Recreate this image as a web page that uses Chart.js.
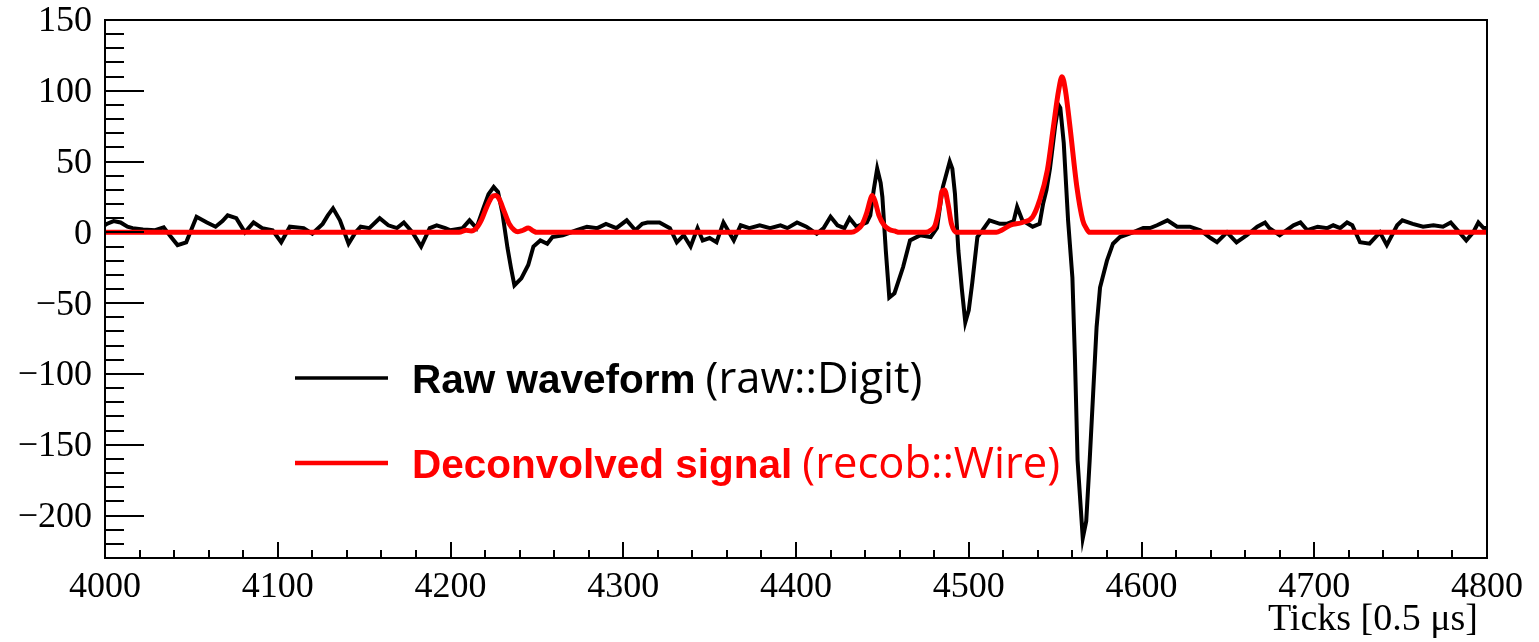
<!DOCTYPE html>
<html><head><meta charset="utf-8">
<script src="https://cdn.jsdelivr.net/npm/chart.js@4.4.1/dist/chart.umd.min.js"></script>
<style>html,body{margin:0;padding:0;background:#fff;}#wrap{width:1539px;height:642px;}</style>
</head><body><div id="wrap"><canvas id="c" width="1539" height="642"></canvas></div>
<script>
// ---- data ----
const rawTicks = [4000,4001,4005,4009,4013,4016,4022,4029,4034,4038,4042,4047,4050,4053,4059,4064,4068,4071,4076,4081,4086,4091,4097,4102,4107,4115,4120,4126,4129,4132,4136,4141,4145,4148,4153,4159,4164,4169,4173,4178,4183,4188,4192,4197,4200,4207,4211,4215,4219,4222,4225,4227.5,4230,4233,4235,4237,4241,4245,4248,4252,4256,4259,4265,4273,4279,4285,4290,4296,4302,4307,4311,4314,4321,4327,4331,4335,4339,4343,4346,4350,4354,4358,4364,4368,4373,4379,4385,4391,4395,4400.6,4406,4412,4416,4420,4424,4428,4431,4435,4441,4443,4445,4447,4449,4450,4452,4454,4457,4462,4466,4472,4478,4481.6,4483,4485,4489,4490.5,4492,4494,4496,4498,4500,4502,4505,4508,4512,4518,4522,4526,4528,4531,4537,4541,4543,4545,4547,4548.5,4550,4552,4553,4555,4557.5,4560,4561.5,4563,4566,4568,4570,4572,4574,4576,4580,4583.5,4587.5,4595,4601,4605,4609,4615,4620.6,4628,4634,4640,4643.7,4649.5,4655,4661,4667,4671.5,4674,4680,4688,4692,4696,4702,4707.6,4711,4715,4719,4722,4726.5,4732,4738,4742,4748,4751,4757,4763,4769,4774.5,4779,4784,4788,4792,4795,4798,4800];
const rawValues = [5,6,8,7,4,3,2,1.5,3.5,-3,-9,-7,2,11,7,4,8,12,10,0,7,3,1.5,-7,4,3,-1,6,12,17,8.5,-8,0,4,3,10,5,3,7,0,-10,3,5,3,1.5,3,8.5,3,17,27,32,28.5,14,-11,-25,-37.5,-32.5,-23,-10,-5.7,-8,-3.3,-2,1.5,4,3,6,3,8.5,1.5,6,7,7,3,-7,-2,-10,3,-5.7,-4,-7,7,-5.7,5,3,5,3,5,3,7,4,-1,3,11,5,3,10,4,7,12,30,45,35,25,-13,-46,-43,-24.5,-5.7,-2,-3.3,3,15,32,50,45,27.5,-13,-40,-63.5,-55,-36,-3.3,1.5,8.5,6,6,8,18,8.5,4,6,20,30,45,60,75,90,88,63,8.5,-32,-90.5,-161,-216,-204,-161,-114,-67,-39,-20,-8,-3.3,0,3,3,5,8.5,4,4,1.5,-4,-7,0,-7,-2,4,7,3,-2,5,7,1.5,4,3,5,3,7,5,-7,-8,0,-9,5,8.5,6,4,5,4,7,0,-5.7,0,7,3,3];

const decTicks = [4000,4205,4209,4212,4215,4218,4221,4224,4226,4228,4231,4234,4237,4239,4242,4245,4248,4250,4432,4435,4438,4441,4443,4444,4445.5,4448,4451,4454,4457,4460,4475,4478,4480.5,4483,4484.5,4486,4488,4490,4493,4516,4519,4524,4531,4537,4541,4545.5,4549,4552,4554,4556,4558.6,4562.6,4566,4568,4570,4800];
const decValues = [0,0,1.5,1,3,9,18,25,26,24,15,6,1.5,0.5,1.5,3,1,0,0,1.5,5,14,23,26,23,12,5,2,1,0,0,1.5,5,18,29,30,20,6,0,0,1.5,5,7,11,22.6,44,74.5,100,110,100,74.5,32,8.5,3,0,0];

const xTickValues = [4000,4100,4200,4300,4400,4500,4600,4700,4800];
const yTickValues = [-200,-150,-100,-50,0,50,100,150];
const xMinorStep = 20;
const yMinorStep = 10;
const xTitle = 'Ticks [0.5 \u03bcs]';
const legendItems = [
  {bold:'Raw waveform', normal:'(raw::Digit)', color:'#000000', width:3.5},
  {bold:'Deconvolved signal', normal:'(recob::Wire)', color:'#ff0000', width:4.5}
];

const toXY = (xs, ys) => xs.map((x,i)=>({x:x, y:ys[i]}));

const rootFrame = {
  id:'rootFrame',
  afterDraw(chart){
    const ctx = chart.ctx, a = chart.chartArea, xs = chart.scales.x, ys = chart.scales.y;
    ctx.save();
    ctx.strokeStyle = '#000'; ctx.lineWidth = 2; ctx.lineCap='butt';
    ctx.beginPath(); ctx.rect(a.left, a.top, a.right-a.left, a.bottom-a.top); ctx.stroke();
    ctx.beginPath();
    for (let v = xs.min; v <= xs.max + 1e-9; v += xMinorStep) {
      const p = Math.round(xs.getPixelForValue(v));
      const major = xTickValues.includes(v);
      ctx.moveTo(p, a.bottom); ctx.lineTo(p, a.bottom - (major ? 16 : 8));
    }
    for (let v = Math.ceil(ys.min / yMinorStep) * yMinorStep; v <= ys.max + 1e-9; v += yMinorStep) {
      const p = Math.round(ys.getPixelForValue(v));
      const major = yTickValues.includes(v);
      ctx.moveTo(a.left, p); ctx.lineTo(a.left + (major ? 39 : 19), p);
    }
    ctx.stroke();
    // axis title
    ctx.fillStyle = '#000';
    ctx.font = '38px "Liberation Serif"';
    ctx.textAlign = 'right'; ctx.textBaseline = 'alphabetic';
    ctx.fillText(xTitle, a.right - 9, 630);
    // legend
    const rows = [{ly:378, by:393}, {ly:463, by:478}];
    legendItems.forEach((it, i) => {
      const r = rows[i];
      ctx.strokeStyle = it.color; ctx.lineWidth = it.width;
      ctx.beginPath(); ctx.moveTo(295, r.ly); ctx.lineTo(388, r.ly); ctx.stroke();
      ctx.fillStyle = it.color; ctx.textAlign = 'left';
      ctx.font = 'bold 40.5px "Liberation Sans"';
      ctx.fillText(it.bold, 412, r.by);
      const w = ctx.measureText(it.bold).width;
      ctx.font = '43.5px "Open Sans"';
      ctx.fillText(it.normal, 412 + w + 10, r.by);
    });
    ctx.restore();
  }
};

const fmt = v => v < 0 ? '\u2212' + Math.abs(v) : String(v);
const tickFont = {family:'Liberation Serif', size:36, lineHeight:1};

new Chart(document.getElementById('c'), {
  type:'line',
  data:{datasets:[
    {label:'Deconvolved signal', data:toXY(decTicks, decValues), borderColor:'#ff0000', borderWidth:5, pointRadius:0, cubicInterpolationMode:'monotone', order:0},
    {label:'Raw waveform', data:toXY(rawTicks, rawValues), borderColor:'#000000', borderWidth:4, pointRadius:0, tension:0, order:1}
  ]},
  options:{
    responsive:false, animation:false, devicePixelRatio:1,
    layout:{padding:{left:0, right:52, top:20, bottom:0}},
    plugins:{legend:{display:false}, tooltip:{enabled:false}},
    scales:{
      x:{type:'linear', min:4000, max:4800,
        afterBuildTicks: s => { s.ticks = xTickValues.map(v=>({value:v})); },
        afterFit: s => { s.height = 84; s.paddingLeft = 0; s.paddingRight = 0; },
        grid:{display:false, drawTicks:false}, border:{display:false},
        ticks:{font:tickFont, color:'#000', padding:12, maxRotation:0, autoSkip:false, callback: v => String(v)}},
      y:{type:'linear', min:-230, max:150,
        afterBuildTicks: s => { s.ticks = yTickValues.map(v=>({value:v})); },
        afterFit: s => { s.width = 105; s.paddingTop = 0; s.paddingBottom = 0; },
        grid:{display:false, drawTicks:false}, border:{display:false},
        ticks:{font:tickFont, color:'#000', padding:13, labelOffset:2, autoSkip:false, callback: fmt}}
    }
  },
  plugins:[rootFrame]
});
</script></body></html>
